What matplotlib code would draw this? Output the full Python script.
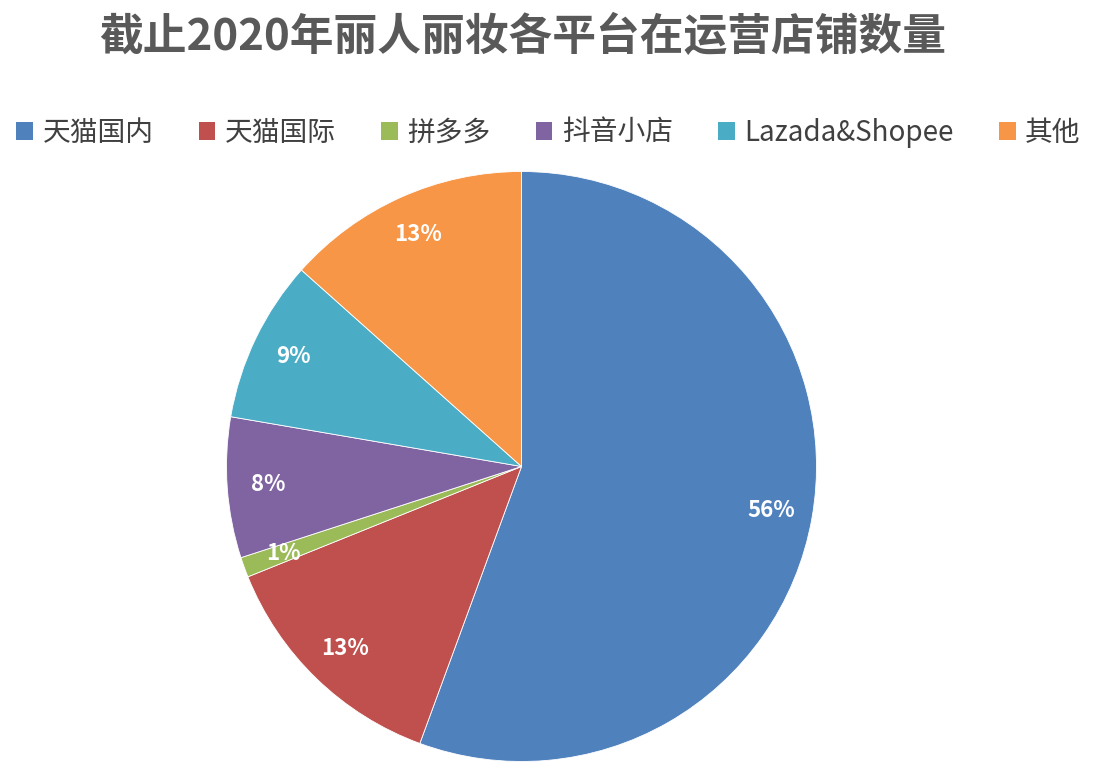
import matplotlib
matplotlib.use('Agg')
import matplotlib.pyplot as plt
from matplotlib.patches import Patch

plt.rcParams['font.family'] = ['Noto Sans CJK SC', 'DejaVu Sans']

# data (share of stores, %)
platforms = ['天猫国内', '天猫国际', '拼多多', '抖音小店', 'Lazada&Shopee', '其他']
shares = [55.6, 13.3, 1.1, 7.7, 8.9, 13.4]
colors = ['#4F81BD', '#C0504D', '#9BBB59', '#8064A2', '#4BACC6', '#F79646']
title = '截止2020年丽人丽妆各平台在运营店铺数量'

fig = plt.figure(figsize=(10.97, 7.78), dpi=100)

# pie axes: centre ~ (521, 466) px, radius ~ 295 px
cx, cy, r = 521.5, 466.5, 295
W, H = 1097, 778
ax = fig.add_axes([(cx - r) / W, (H - cy - r) / H, 2 * r / W, 2 * r / H])

wedges, texts, autotexts = ax.pie(
    shares, colors=colors, startangle=90, counterclock=False,
    autopct='%.0f%%', pctdistance=0.86, radius=1,
    wedgeprops=dict(edgecolor='white', linewidth=0.6),
    textprops=dict(color='white', fontsize=16, fontweight='bold'))
ax.set_xlim(-1, 1)
ax.set_ylim(-1, 1)
ax.set_aspect('equal')
ax.axis('off')

fig.text(0.476, 1 - 37 / H, title, ha='center', va='center',
         fontsize=31.5, fontweight='bold', color='#595959')

handles = [Patch(facecolor=c, edgecolor='none') for c in colors]
fig.legend(handles, platforms, loc='center', bbox_to_anchor=(0.5, 1 - 133 / H),
           ncol=6, frameon=False, fontsize=20, labelcolor='#404040',
           handlelength=0.6, handleheight=0.6, handletextpad=0.35,
           columnspacing=1.62)

fig.savefig('out.png', dpi=100, facecolor='white')
